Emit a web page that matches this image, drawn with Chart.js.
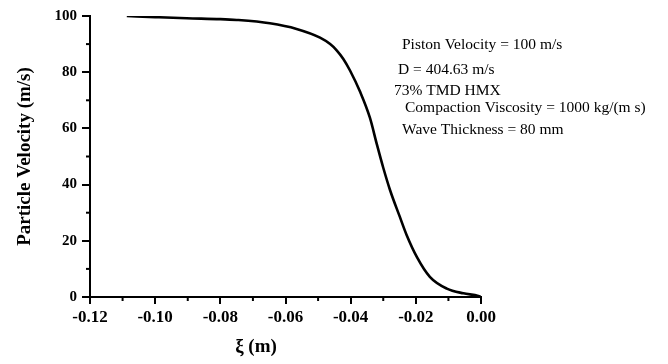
<!DOCTYPE html>
<html>
<head>
<meta charset="utf-8">
<script src="https://cdn.jsdelivr.net/npm/chart.js@4/dist/chart.umd.min.js"></script>
<style>
html, body { margin: 0; padding: 0; background: #fff; }
#wrap { width: 668px; height: 364px; }
</style>
</head>
<body>
<div id="wrap"><canvas id="waveChart" width="668" height="364"></canvas></div>
<script>

/* DATA */

const xi = [
-0.1087, -0.100, -0.0903, -0.080, -0.0750, -0.0648, -0.0566, -0.0494, -0.0463, -0.0443,
-0.0423, -0.0402, -0.0371, -0.0341, -0.0320, -0.0300, -0.0279, -0.0249, -0.0228, -0.0197,
-0.0157, -0.0105, -0.0054, -0.0008, 0.0
];

const velocity = [
100, 99.6, 99.2, 98.9, 98.6, 97.4, 95.4, 92.3, 90.0, 87.8,
84.8, 80.6, 73.0, 63.8, 54.5, 46.0, 38.0, 28.5, 22.0, 14.3,
7.2, 3.0, 1.3, 0.4, 0
];

const xTicks = [-0.12, -0.10, -0.08, -0.06, -0.04, -0.02, 0.00];
const yTicks = [0, 20, 40, 60, 80, 100];

const notes = [
"Piston Velocity = 100 m/s",
"D = 404.63 m/s",
"73% TMD HMX",
"Compaction Viscosity = 1000 kg/(m s)",
"Wave Thickness = 80 mm"
];

const serif = "'Liberation Serif', 'DejaVu Serif', serif";

/* minor ticks + annotation text */

const extras = {
id: "extras",
afterDraw(chart) {
const ctx = chart.ctx;
const xs = chart.scales.x;
const ys = chart.scales.y;
const area = chart.chartArea;

ctx.save();
ctx.strokeStyle = "#000";
ctx.lineWidth = 2;

for (let i = -11; i < 0; i += 2) {
const px = xs.getPixelForValue(i / 100);
ctx.beginPath();
ctx.moveTo(px, area.bottom);
ctx.lineTo(px, area.bottom + 4);
ctx.stroke();
}

for (let v = 10; v < 100; v += 20) {
const py = ys.getPixelForValue(v);
ctx.beginPath();
ctx.moveTo(area.left, py);
ctx.lineTo(area.left - 4, py);
ctx.stroke();
}

ctx.fillStyle = "#000";
ctx.textBaseline = "middle";
ctx.textAlign = "left";
ctx.font = "15.5px " + serif;
const offs = [[312, 29], [308, 54], [304, 75], [315, 92], [312, 114]];
notes.forEach(function (t, i) {
ctx.fillText(t, area.left + offs[i][0], area.top + offs[i][1]);
});

ctx.font = "bold 19px " + serif;
ctx.textAlign = "center";
ctx.fillText("\u03BE (m)", 256, 347);

ctx.restore();
}
};

const ctx1 = document.getElementById("waveChart").getContext("2d");

new Chart(ctx1, {

type: "line",

data: {
datasets: [{
data: xi.map(function (x, i) { return { x: x, y: velocity[i] }; }),
borderColor: "#000",
borderWidth: 2.6,
pointRadius: 0,
fill: false,
cubicInterpolationMode: "monotone"
}]
},

options: {
responsive: false,
animation: false,
layout: {
padding: { top: 16, right: 187, left: 0, bottom: 0 }
},
plugins: {
legend: { display: false },
tooltip: { enabled: false }
},
scales: {
x: {
type: "linear",
min: -0.12,
max: 0,
afterBuildTicks: function (scale) {
scale.ticks = xTicks.map(function (v) { return { value: v }; });
},
afterFit: function (scale) { scale.height = 67; },
ticks: {
color: "#000",
font: { family: serif, size: 17, weight: "bold" },
padding: 3,
maxRotation: 0,
callback: function (v) { return v.toFixed(2); }
},
grid: {
drawOnChartArea: false,
color: "#000",
tickLength: 7,
lineWidth: 2
},
border: { display: true, color: "#000", width: 2 }
},
y: {
min: 0,
max: 100,
afterBuildTicks: function (scale) {
scale.ticks = yTicks.map(function (v) { return { value: v }; });
},
afterFit: function (scale) { scale.width = 90; },
ticks: {
color: "#000",
font: { family: serif, size: 15, weight: "bold" },
padding: 5
},
grid: {
drawOnChartArea: false,
color: "#000",
tickLength: 8,
lineWidth: 2
},
border: { display: true, color: "#000", width: 2 },
title: {
display: true,
text: "Particle Velocity (m/s)",
color: "#000",
font: { family: serif, size: 19, weight: "bold" },
padding: { top: 14, bottom: 0 }
}
}
}
},

plugins: [extras]

});

</script>
</body>
</html>
